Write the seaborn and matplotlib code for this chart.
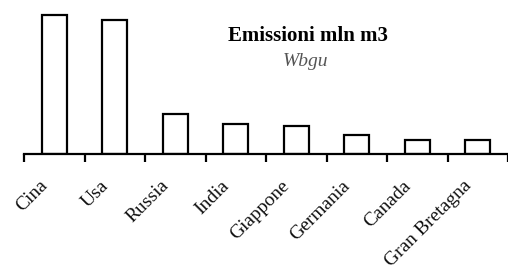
import matplotlib
matplotlib.use('Agg')
import matplotlib.pyplot as plt
import matplotlib.transforms as mtransforms
import seaborn as sns
import pandas as pd
import numpy as np

paesi = ['Cina', 'Usa', 'Russia', 'India', 'Giappone', 'Germania', 'Canada', 'Gran Bretagna']
emissioni = [6018, 5800, 1730, 1300, 1210, 820, 610, 600]

df = pd.DataFrame({'paese': paesi, 'emissioni': emissioni})

sns.set_style('white')
plt.rcParams['font.family'] = ['Liberation Serif', 'DejaVu Serif']
plt.rcParams['text.color'] = 'black'
plt.rcParams['xtick.color'] = 'black'

fig = plt.figure(figsize=(5.08, 2.71), dpi=100)
ax = fig.add_axes([24 / 508, 117 / 271, 484 / 508, 144 / 271])

sns.barplot(data=df, x='paese', y='emissioni', ax=ax, color='white',
            edgecolor='black', linewidth=1.6, width=0.41)

ax.set_xlim(-0.5, -0.5 + 484 / 61.3)
ax.set_ylim(0, 6250)
ax.set_xlabel('')
ax.set_ylabel('')
ax.set_yticks([])

for s in ['top', 'right', 'left']:
    ax.spines[s].set_visible(False)
ax.spines['bottom'].set_linewidth(1.6)
ax.spines['bottom'].set_color('black')

ax.set_xticks(range(len(paesi)))
ax.set_xticklabels(paesi, rotation=45, ha='right', va='center', rotation_mode='anchor',
                   fontsize=14, color='#111111')
ax.tick_params(axis='x', which='major', length=0, pad=21)
ax.set_xticks(np.arange(-0.5, len(paesi), 1), minor=True)
ax.tick_params(axis='x', which='minor', bottom=True, length=6, width=1.6, color='black', direction='out')

# sposta le etichette un po' a sinistra
offset = mtransforms.ScaledTranslation(-9 / 100, 0, fig.dpi_scale_trans)
for lab in ax.get_xticklabels():
    lab.set_transform(lab.get_transform() + offset)

fig.text(308 / 508, 1 - 36 / 271, 'Emissioni mln m3', ha='center', va='center',
         fontsize=15, fontweight='bold', color='black')
fig.text(305 / 508, 1 - 61 / 271, 'Wbgu', ha='center', va='center',
         fontsize=14, style='italic', color='#555555')

fig.savefig('out.png', dpi=100)
